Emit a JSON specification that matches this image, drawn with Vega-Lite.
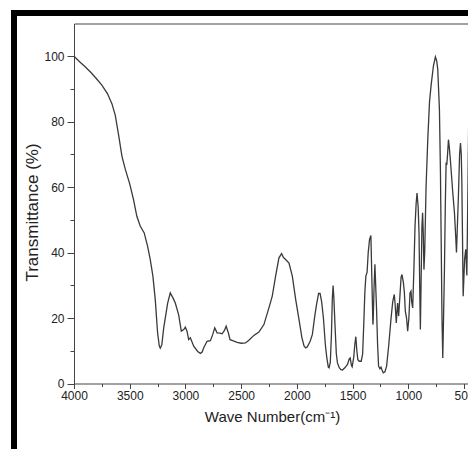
{
  "$schema": "https://vega.github.io/schema/vega-lite/v6.json",
  "autosize": {"type": "none"},
  "padding": {"left": 14, "top": 13, "right": 0, "bottom": 0},
  "width": 462,
  "height": 442,
  "background": "white",
  "view": {"stroke": "black", "strokeWidth": 6, "fill": "white"},
  "config": {
    "font": "Liberation Sans",
    "axis": {
      "labelFont": "Liberation Sans",
      "titleFont": "Liberation Sans",
      "labelColor": "#222",
      "titleColor": "#222",
      "domainColor": "#444",
      "tickColor": "#444",
      "grid": false,
      "titleFontWeight": "normal",
      "labelFontSize": 12,
      "titleFontSize": 15
    }
  },
  "data": {
    "values": [
      {"w": 4000, "t": 100}, {"w": 3950, "t": 98.3}, {"w": 3900, "t": 96.8}, {"w": 3850, "t": 95.1},
      {"w": 3800, "t": 93.2}, {"w": 3750, "t": 91.2}, {"w": 3700, "t": 88.6}, {"w": 3660, "t": 85.5},
      {"w": 3630, "t": 82}, {"w": 3600, "t": 76}, {"w": 3570, "t": 69.5}, {"w": 3540, "t": 65.5},
      {"w": 3500, "t": 61}, {"w": 3466, "t": 56.2}, {"w": 3436, "t": 51.1}, {"w": 3406, "t": 48.1},
      {"w": 3370, "t": 46}, {"w": 3340, "t": 42}, {"w": 3316, "t": 37.9}, {"w": 3292, "t": 32.8},
      {"w": 3271, "t": 25.7}, {"w": 3250, "t": 15.5}, {"w": 3235, "t": 11.5}, {"w": 3226, "t": 10.8},
      {"w": 3212, "t": 11.8}, {"w": 3195, "t": 17}, {"w": 3181, "t": 20}, {"w": 3160, "t": 24.5},
      {"w": 3136, "t": 27.7}, {"w": 3110, "t": 26}, {"w": 3091, "t": 24.6}, {"w": 3061, "t": 21},
      {"w": 3037, "t": 16}, {"w": 3015, "t": 16.5}, {"w": 3001, "t": 17.2}, {"w": 2986, "t": 16},
      {"w": 2971, "t": 13.4}, {"w": 2956, "t": 14}, {"w": 2926, "t": 11.4}, {"w": 2890, "t": 9.8},
      {"w": 2866, "t": 9.2}, {"w": 2850, "t": 9.6}, {"w": 2836, "t": 10.9}, {"w": 2806, "t": 12.9},
      {"w": 2776, "t": 13.1}, {"w": 2755, "t": 15}, {"w": 2737, "t": 17}, {"w": 2716, "t": 15.5},
      {"w": 2690, "t": 15.4}, {"w": 2671, "t": 15.2}, {"w": 2650, "t": 16.2}, {"w": 2635, "t": 17.5},
      {"w": 2615, "t": 15.5}, {"w": 2600, "t": 13.4}, {"w": 2570, "t": 13}, {"w": 2536, "t": 12.6},
      {"w": 2500, "t": 12.3}, {"w": 2461, "t": 12.4}, {"w": 2431, "t": 13.2}, {"w": 2386, "t": 14.7},
      {"w": 2341, "t": 15.7}, {"w": 2296, "t": 18}, {"w": 2251, "t": 23.1}, {"w": 2221, "t": 26.7},
      {"w": 2191, "t": 32.8}, {"w": 2161, "t": 38.4}, {"w": 2137, "t": 39.7}, {"w": 2120, "t": 38.5},
      {"w": 2101, "t": 37.9}, {"w": 2071, "t": 36.8}, {"w": 2041, "t": 32.8}, {"w": 2011, "t": 25.7},
      {"w": 1981, "t": 19.5}, {"w": 1955, "t": 14}, {"w": 1936, "t": 11.5}, {"w": 1921, "t": 10.9},
      {"w": 1906, "t": 11.2}, {"w": 1880, "t": 13}, {"w": 1861, "t": 15}, {"w": 1840, "t": 20.5},
      {"w": 1822, "t": 24.5}, {"w": 1805, "t": 27.5}, {"w": 1792, "t": 27.5}, {"w": 1778, "t": 25},
      {"w": 1762, "t": 20}, {"w": 1745, "t": 12}, {"w": 1732, "t": 8}, {"w": 1718, "t": 5},
      {"w": 1711, "t": 4.8}, {"w": 1700, "t": 6.5}, {"w": 1690, "t": 15}, {"w": 1682, "t": 26},
      {"w": 1675, "t": 29.9}, {"w": 1668, "t": 26}, {"w": 1657, "t": 17}, {"w": 1646, "t": 9},
      {"w": 1636, "t": 6.3}, {"w": 1620, "t": 4.8}, {"w": 1605, "t": 4.2}, {"w": 1591, "t": 4.1},
      {"w": 1570, "t": 4.8}, {"w": 1546, "t": 5.8}, {"w": 1530, "t": 7.5}, {"w": 1522, "t": 7.8},
      {"w": 1510, "t": 5.5}, {"w": 1504, "t": 5.1}, {"w": 1490, "t": 8}, {"w": 1480, "t": 12},
      {"w": 1471, "t": 14.3}, {"w": 1462, "t": 10}, {"w": 1453, "t": 7.3}, {"w": 1440, "t": 6.8},
      {"w": 1423, "t": 6.8}, {"w": 1410, "t": 9}, {"w": 1400, "t": 18}, {"w": 1390, "t": 28},
      {"w": 1381, "t": 32.8}, {"w": 1370, "t": 34}, {"w": 1360, "t": 40}, {"w": 1348, "t": 44},
      {"w": 1336, "t": 45.2}, {"w": 1326, "t": 30}, {"w": 1318, "t": 18}, {"w": 1315, "t": 19.6},
      {"w": 1307, "t": 30}, {"w": 1300, "t": 36.4}, {"w": 1293, "t": 30}, {"w": 1285, "t": 22.6},
      {"w": 1276, "t": 12}, {"w": 1267, "t": 5.3}, {"w": 1255, "t": 4.5}, {"w": 1245, "t": 5},
      {"w": 1237, "t": 4.2}, {"w": 1225, "t": 3.3}, {"w": 1210, "t": 3.6}, {"w": 1195, "t": 5.3},
      {"w": 1175, "t": 12}, {"w": 1156, "t": 19.6}, {"w": 1140, "t": 25}, {"w": 1126, "t": 27.2},
      {"w": 1118, "t": 24}, {"w": 1108, "t": 18.5}, {"w": 1102, "t": 22}, {"w": 1096, "t": 24.6},
      {"w": 1087, "t": 20.6}, {"w": 1075, "t": 27}, {"w": 1065, "t": 32.5}, {"w": 1057, "t": 33.3},
      {"w": 1045, "t": 31}, {"w": 1036, "t": 28}, {"w": 1027, "t": 22.1}, {"w": 1016, "t": 20},
      {"w": 1006, "t": 16}, {"w": 995, "t": 20}, {"w": 985, "t": 27.7}, {"w": 976, "t": 28.2},
      {"w": 970, "t": 25}, {"w": 961, "t": 23.1}, {"w": 950, "t": 35}, {"w": 940, "t": 48},
      {"w": 930, "t": 55}, {"w": 922, "t": 58.2}, {"w": 912, "t": 54}, {"w": 904, "t": 46},
      {"w": 898, "t": 30}, {"w": 892, "t": 16.5}, {"w": 886, "t": 30}, {"w": 878, "t": 48},
      {"w": 872, "t": 52.2}, {"w": 866, "t": 46}, {"w": 860, "t": 34.8}, {"w": 853, "t": 40},
      {"w": 841, "t": 60}, {"w": 825, "t": 75}, {"w": 810, "t": 86}, {"w": 796, "t": 91},
      {"w": 775, "t": 97}, {"w": 757, "t": 99.8}, {"w": 745, "t": 98.5}, {"w": 736, "t": 96},
      {"w": 721, "t": 83.7}, {"w": 712, "t": 65}, {"w": 706, "t": 46}, {"w": 698, "t": 20},
      {"w": 691, "t": 7.8}, {"w": 684, "t": 20}, {"w": 676, "t": 35}, {"w": 668, "t": 55},
      {"w": 661, "t": 67.5}, {"w": 655, "t": 66.8}, {"w": 648, "t": 70}, {"w": 640, "t": 74.5},
      {"w": 632, "t": 72}, {"w": 622, "t": 68}, {"w": 601, "t": 58.2}, {"w": 586, "t": 52.1},
      {"w": 575, "t": 45}, {"w": 568, "t": 40}, {"w": 560, "t": 48}, {"w": 550, "t": 58},
      {"w": 540, "t": 70}, {"w": 532, "t": 73.5}, {"w": 525, "t": 70}, {"w": 520, "t": 62},
      {"w": 514, "t": 45}, {"w": 508, "t": 26.7}, {"w": 495, "t": 38}, {"w": 485, "t": 41},
      {"w": 475, "t": 33}, {"w": 465, "t": 60}, {"w": 457, "t": 84}, {"w": 450, "t": 92}
    ]
  },
  "layer": [
    {
      "mark": {"type": "line", "color": "#3a3a3a", "strokeWidth": 1.3},
      "encoding": {
        "x": {
          "field": "w", "type": "quantitative",
          "scale": {"domain": [4000, 400], "range": [60, 461.2], "nice": false, "zero": false},
          "axis": {
            "orient": "bottom", "offset": -71.5,
            "values": [4000, 3500, 3000, 2500, 2000, 1500, 1000, 500],
            "tickSize": 5, "labelPadding": 2, "format": "d",
            "title": "Wave Number(cm⁻¹)", "titlePadding": 8, "titleX": 258,
            "labelFlush": false, "labelOverlap": false
          }
        },
        "y": {
          "field": "t", "type": "quantitative",
          "scale": {"domain": [0, 110], "range": [370.5, 10.5], "nice": false, "zero": false},
          "axis": {
            "orient": "left", "offset": -60,
            "values": [0, 20, 40, 60, 80, 100],
            "tickSize": 7, "labelPadding": 3,
            "title": "Transmittance (%)", "titlePadding": 2, "titleFontSize": 17, "titleY": 199,
            "labelFlush": false, "labelOverlap": false
          }
        }
      }
    },
    {
      "mark": {"type": "line", "strokeOpacity": 0},
      "encoding": {
        "x": {
          "field": "w", "type": "quantitative",
          "scale": {"domain": [4000, 400], "range": [60, 461.2], "nice": false, "zero": false},
          "axis": {
            "orient": "bottom", "offset": -71.5,
            "values": [3750, 3250, 2750, 2250, 1750, 1250, 750],
            "tickSize": 3, "labels": false, "domain": false, "title": null
          }
        },
        "y": {
          "field": "t", "type": "quantitative",
          "scale": {"domain": [0, 110], "range": [370.5, 10.5], "nice": false, "zero": false},
          "axis": {
            "orient": "left", "offset": -60,
            "values": [10, 30, 50, 70, 90],
            "tickSize": 4, "labels": false, "domain": false, "title": null
          }
        }
      }
    },
    {
      "mark": {"type": "line", "strokeOpacity": 0},
      "encoding": {
        "x": {
          "field": "w", "type": "quantitative",
          "scale": {"domain": [4000, 400], "range": [60, 461.2], "nice": false, "zero": false},
          "axis": {
            "orient": "top", "offset": -10.5,
            "ticks": false, "labels": false, "domain": true, "title": null
          }
        },
        "y": {
          "field": "t", "type": "quantitative",
          "scale": {"domain": [0, 110], "range": [370.5, 10.5], "nice": false, "zero": false},
          "axis": null
        }
      }
    }
  ],
  "resolve": {"axis": {"x": "independent", "y": "independent"}}
}
